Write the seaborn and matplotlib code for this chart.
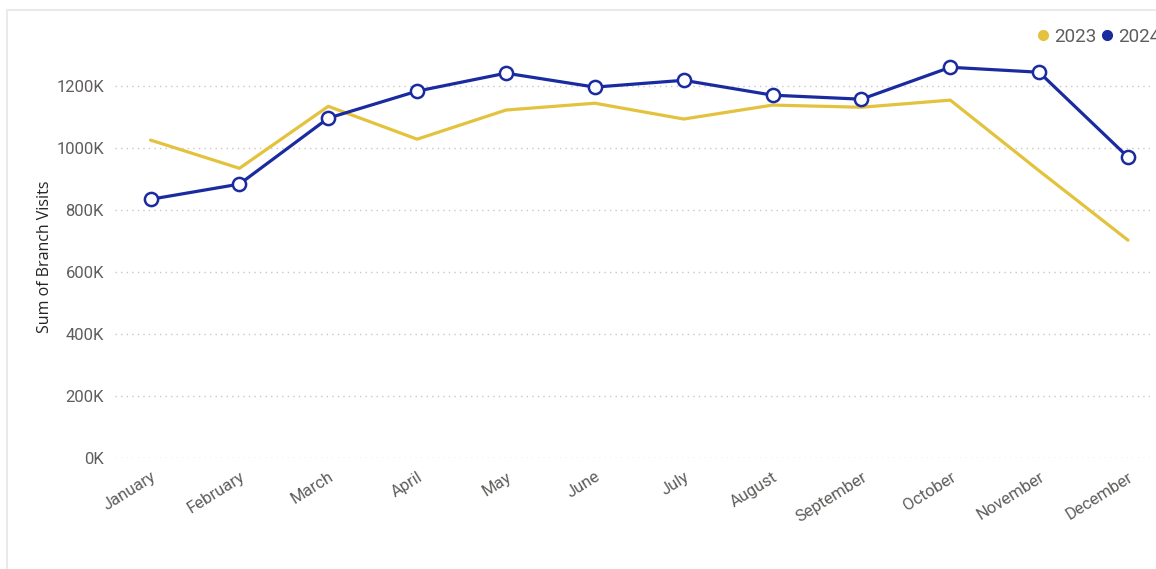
import pandas as pd
import numpy as np
import matplotlib.pyplot as plt
import seaborn as sns
from matplotlib.patches import Rectangle
from matplotlib.lines import Line2D

# Monthly branch visits (in thousands)
months = ['January', 'February', 'March', 'April', 'May', 'June', 'July',
          'August', 'September', 'October', 'November', 'December']
visits_2023 = [1026, 935, 1135, 1029, 1123, 1145, 1094, 1139, 1132, 1155, 927, 703]
visits_2024 = [835, 884, 1097, 1184, 1242, 1197, 1219, 1171, 1158, 1261, 1245, 971]

yellow = '#E3C23D'
blue = '#1A2BA0'

df = pd.DataFrame({
    'Month': months * 2,
    'Visits': [v * 1000 for v in visits_2023 + visits_2024],
    'Year': ['2023'] * 12 + ['2024'] * 12,
})

sns.set_theme(style='white')
plt.rcParams['font.family'] = ['Roboto', 'DejaVu Sans']

fig = plt.figure(figsize=(11.56, 5.69), dpi=100)
ax = fig.add_axes([0.0995, 0.195, 0.8955, 0.708])

# card border
fig.patches.append(Rectangle((7 / 1156, -0.1), 1.2, 1 - 10 / 569 + 0.1,
                             transform=fig.transFigure, fill=False,
                             edgecolor='#EAEAEA', linewidth=1.5, zorder=0))

sns.lineplot(data=df[df['Year'] == '2023'], x='Month', y='Visits', ax=ax,
             color=yellow, linewidth=2.3, sort=False)
sns.lineplot(data=df[df['Year'] == '2024'], x='Month', y='Visits', ax=ax,
             color=blue, linewidth=2.3, sort=False, marker='o', markersize=9.5,
             markerfacecolor='white', markeredgecolor=blue, markeredgewidth=1.8)

ax.set_xlim(-0.4, 11.25)
ax.set_ylim(0, 1300000)
ax.set_yticks(np.arange(0, 1200001, 200000))
ax.set_yticklabels([f'{int(t / 1000)}K' for t in ax.get_yticks()])
ax.yaxis.grid(True, linestyle=(0, (1, 3)), color='#C8C8C8', linewidth=1)
ax.xaxis.grid(False)
for s in ax.spines.values():
    s.set_visible(False)

ax.tick_params(axis='both', colors='#605E5C', length=0)
ax.tick_params(axis='y', pad=8, labelsize=12)
ax.tick_params(axis='x', pad=8, labelsize=12)
plt.setp(ax.get_xticklabels(), rotation=32, ha='right', rotation_mode='anchor')
ax.set_xlabel('')
ax.set_ylabel('Sum of Branch Visits', family=['Open Sans', 'DejaVu Sans'],
              fontsize=11.5, color='#252423', labelpad=2)

handles = [Line2D([], [], marker='o', linestyle='', color=yellow, markersize=7),
           Line2D([], [], marker='o', linestyle='', color=blue, markersize=7)]
fig.legend(handles, ['2023', '2024'], loc='upper left',
           bbox_to_anchor=(1020 / 1156, 1 - 11 / 569), ncol=2, frameon=False,
           handlelength=0.6, handletextpad=0.3, columnspacing=0.3,
           prop={'size': 13.5}, labelcolor='#605E5C')

fig.savefig('out.png', dpi=100)
